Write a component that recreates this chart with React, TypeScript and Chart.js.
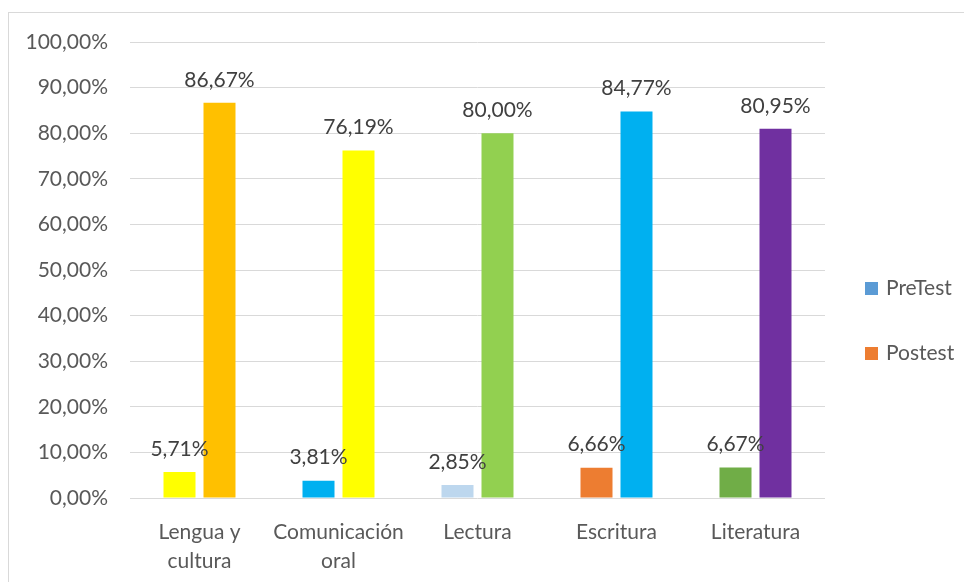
import React, { useEffect, useRef } from "react";
import { Chart, registerables } from "chart.js";

Chart.register(...registerables);

const categories: string[][] = [
  ["Lengua y", "cultura"],
  ["Comunicación", "oral"],
  ["Lectura"],
  ["Escritura"],
  ["Literatura"],
];
const preTest = [0.0571, 0.0381, 0.0285, 0.0666, 0.0667];
const postest = [0.8667, 0.7619, 0.8, 0.8477, 0.8095];
const preColors = ["#FFFF00", "#00B0F0", "#BDD7EE", "#ED7D31", "#70AD47"];
const postColors = ["#FFC000", "#FFFF00", "#92D050", "#00B0F0", "#7030A0"];
const seriesNames = ["PreTest", "Postest"];
const legendColors = ["#5B9BD5", "#ED7D31"];

const FONT = "Lato, 'Open Sans', sans-serif";
const SIZE = 21;
const fmt = (v: number) => (v * 100).toFixed(2).replace(".", ",") + "%";

const labelPlugin = {
  id: "valueLabels",
  afterDatasetsDraw(chart: any) {
    const ctx = chart.ctx;
    ctx.save();
    ctx.font = `${SIZE}px ${FONT}`;
    ctx.fillStyle = "#404040";
    ctx.textAlign = "center";
    ctx.textBaseline = "middle";
    chart.data.datasets.forEach((ds: any, di: number) => {
      const meta = chart.getDatasetMeta(di);
      meta.data.forEach((el: any, i: number) => {
        ctx.fillText(fmt(ds.data[i]), el.x, el.y - 23);
      });
    });
    ctx.restore();
  },
};

const legendPlugin = {
  id: "sideLegend",
  afterDraw(chart: any) {
    const ctx = chart.ctx;
    const area = chart.chartArea;
    ctx.save();
    ctx.font = `${SIZE}px ${FONT}`;
    ctx.textAlign = "left";
    ctx.textBaseline = "middle";
    const ys = [275, 340];
    seriesNames.forEach((name, i) => {
      const y = ys[i];
      ctx.fillStyle = legendColors[i];
      ctx.fillRect(area.right + 40, y - 6, 13, 13);
      ctx.fillStyle = "#595959";
      ctx.fillText(name, area.right + 61, y);
    });
    ctx.restore();
  },
};

export default function App() {
  const ref = useRef<HTMLCanvasElement>(null);
  useEffect(() => {
    document.documentElement.style.overflow = "hidden";
    const chart = new Chart(ref.current!, {
      type: "bar",
      data: {
        labels: categories,
        datasets: [
          {
            label: seriesNames[0],
            data: preTest,
            backgroundColor: preColors,
            categoryPercentage: 0.5755,
            barPercentage: 0.8,
          },
          {
            label: seriesNames[1],
            data: postest,
            backgroundColor: postColors,
            categoryPercentage: 0.5755,
            barPercentage: 0.8,
          },
        ],
      },
      options: {
        responsive: false,
        animation: false,
        layout: { padding: { top: 29, right: 147, bottom: 0, left: 0 } },
        plugins: { legend: { display: false }, tooltip: { enabled: false } },
        scales: {
          x: {
            grid: { display: false },
            border: { display: false },
            ticks: {
              color: "#595959",
              font: { family: FONT, size: SIZE, lineHeight: 1.36 },
              padding: 12,
              maxRotation: 0,
              autoSkip: false,
            },
            afterFit(axis: any) {
              axis.height = 84;
            },
          },
          y: {
            min: 0,
            max: 1,
            grid: { color: "#D9D9D9", lineWidth: 1, drawTicks: false },
            border: { display: false },
            ticks: {
              stepSize: 0.1,
              color: "#595959",
              font: { family: FONT, size: SIZE },
              padding: 22,
              callback: (v: any) => fmt(Number(v)),
            },
            afterFit(axis: any) {
              axis.width = 121;
              axis.paddingTop = 0;
              axis.paddingBottom = 0;
            },
          },
        },
      },
      plugins: [labelPlugin, legendPlugin],
    });
    return () => chart.destroy();
  }, []);
  return (
    <div
      style={{
        width: 963,
        height: 569,
        marginTop: 4,
        borderTop: "1px solid #D9D9D9",
        borderLeft: "1px solid #D9D9D9",
        background: "#fff",
      }}
    >
      <canvas ref={ref} width={963} height={569} style={{ display: "block" }} />
    </div>
  );
}
